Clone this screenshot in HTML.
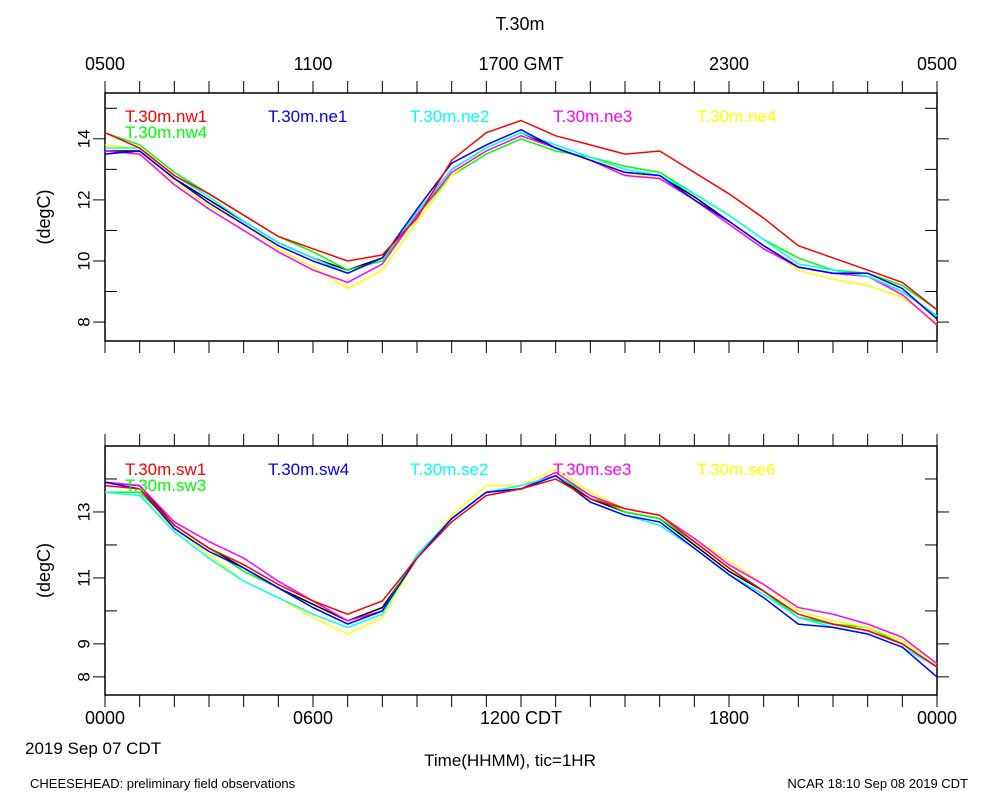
<!DOCTYPE html>
<html><head><meta charset="utf-8"><style>
body{margin:0;background:#fff;font-family:"Liberation Sans",sans-serif;}
svg text{font-family:"Liberation Sans",sans-serif;}
</style></head><body>
<svg id="chart" width="1000" height="800" viewBox="0 0 1000 800">
<text x="520" y="30" font-size="18" text-anchor="middle">T.30m</text>
<g id="top"></g>
<g id="bot"></g>
<text x="105" y="724" font-size="18" text-anchor="middle">0000</text>
<text x="313" y="724" font-size="18" text-anchor="middle">0600</text>
<text x="521" y="724" font-size="18" text-anchor="middle">1200 CDT</text>
<text x="729" y="724" font-size="18" text-anchor="middle">1800</text>
<text x="937" y="724" font-size="18" text-anchor="middle">0000</text>
<text x="105" y="70" font-size="18" text-anchor="middle">0500</text>
<text x="313" y="70" font-size="18" text-anchor="middle">1100</text>
<text x="521" y="70" font-size="18" text-anchor="middle">1700 GMT</text>
<text x="729" y="70" font-size="18" text-anchor="middle">2300</text>
<text x="937" y="70" font-size="18" text-anchor="middle">0500</text>
<text x="25" y="754" font-size="17">2019 Sep 07 CDT</text>
<text x="510" y="766" font-size="17" text-anchor="middle">Time(HHMM), tic=1HR</text>
<text x="30" y="788" font-size="13">CHEESEHEAD: preliminary field observations</text>
<text x="968" y="788" font-size="13" text-anchor="end">NCAR 18:10 Sep 08 2019 CDT</text>
</svg>
<script>
const hours = [0,1,2,3,4,5,6,7,8,9,10,11,12,13,14,15,16,17,18,19,20,21,22,23,24];
const topNames = ["T.30m.nw1","T.30m.ne1","T.30m.ne2","T.30m.ne3","T.30m.ne4","T.30m.nw4"];
const botNames = ["T.30m.sw1","T.30m.sw4","T.30m.se2","T.30m.se3","T.30m.se6","T.30m.sw3"];
const topNw1 = [14.2,13.7,12.8,12.2,11.5,10.8,10.4,10.0,10.2,11.4,13.3,14.2,14.6,14.1,13.8,13.5,13.6,12.9,12.2,11.4,10.5,10.1,9.7,9.3,8.4];
const topNe1 = [13.5,13.6,12.7,11.9,11.2,10.5,10.0,9.6,10.1,11.7,13.2,13.8,14.3,13.7,13.3,12.9,12.8,12.0,11.3,10.5,9.8,9.6,9.6,9.1,8.1];
const topNe2 = [13.7,13.7,12.8,12.1,11.3,10.6,10.1,9.6,10.1,11.6,13.0,13.7,14.2,13.8,13.4,13.0,12.8,12.2,11.5,10.7,9.9,9.7,9.5,9.0,8.2];
const topNe3 = [13.6,13.5,12.5,11.7,11.0,10.3,9.7,9.3,9.9,11.5,12.9,13.6,14.1,13.7,13.3,12.8,12.7,12.0,11.2,10.4,9.8,9.6,9.5,8.9,7.9];
const topNe4 = [13.8,13.7,12.6,11.8,11.2,10.4,9.8,9.1,9.7,11.3,12.8,13.7,14.2,13.8,13.4,12.9,12.7,12.0,11.3,10.5,9.7,9.4,9.2,8.8,8.0];
const topNw4 = [14.2,13.8,12.9,12.2,11.5,10.8,10.3,9.7,10.0,11.5,12.8,13.5,14.0,13.6,13.4,13.1,12.9,12.2,11.5,10.7,10.1,9.7,9.6,9.2,8.4];
const topBlack = [13.6,13.6,12.7,12.0,11.3,10.6,10.1,9.7,10.1,11.6,13.0,13.7,14.2,13.7,13.3,12.9,12.8,12.1,11.3,10.5,9.8,9.6,9.5,9.0,8.2];
const botSw1 = [13.8,13.7,12.6,11.9,11.4,10.8,10.3,9.9,10.3,11.6,12.7,13.5,13.7,14.0,13.4,13.1,12.9,12.1,11.3,10.6,9.9,9.6,9.4,9.0,8.3];
const botSw4 = [13.9,13.7,12.5,11.8,11.3,10.7,10.1,9.6,10.0,11.6,12.8,13.6,13.7,14.1,13.3,12.9,12.7,11.9,11.1,10.4,9.6,9.5,9.3,8.9,8.0];
const botSe2 = [13.6,13.5,12.4,11.6,10.9,10.4,9.9,9.5,9.9,11.7,12.8,13.6,13.8,14.1,13.3,12.9,12.6,11.9,11.1,10.5,9.8,9.5,9.3,8.9,8.3];
const botSe3 = [13.9,13.8,12.7,12.1,11.6,10.9,10.3,9.7,10.0,11.6,12.8,13.6,13.7,14.2,13.5,13.1,12.9,12.2,11.4,10.8,10.1,9.9,9.6,9.2,8.4];
const botSe6 = [13.6,13.5,12.5,11.7,10.9,10.4,9.8,9.3,9.8,11.6,12.9,13.8,13.8,14.3,13.6,13.1,12.9,12.2,11.5,10.8,10.0,9.7,9.5,9.1,8.4];
const botSw3 = [13.6,13.6,12.6,11.9,11.2,10.7,10.1,9.6,10.0,11.7,12.8,13.6,13.7,14.1,13.5,13.0,12.8,12.1,11.3,10.6,9.8,9.6,9.5,9.0,8.3];
const botBlack = [13.9,13.8,12.6,11.9,11.3,10.7,10.2,9.7,10.1,11.6,12.8,13.6,13.7,14.1,13.4,13.0,12.8,12.0,11.2,10.6,9.8,9.6,9.4,9.0,8.3];
const topTicks = [8,10,12,14];
const botTicks = [8,9,11,13];

const NS="http://www.w3.org/2000/svg";
const X0=105,X1=937;
function xs(h){return X0+(h/24)*(X1-X0);}
function mk(tag,attrs,parent){const e=document.createElementNS(NS,tag);for(const k in attrs)e.setAttribute(k,attrs[k]);parent.appendChild(e);return e;}

function panel(g,y0,y1,vmin,vmax,ticks,minor,series,colors){
  const ys=v=>y1-(v-vmin)/(vmax-vmin)*(y1-y0);
  const fr=mk('rect',{x:X0,y:y0,width:X1-X0,height:y1-y0,fill:'none',stroke:'#000','stroke-width':1.5},g);
  
  
  for(let h=0;h<=24;h++){
    const x=xs(h);
    const t1=mk('line',{x1:x,y1:y0-12,x2:x,y2:y0,stroke:'#000'},g);
    
    
    const t2=mk('line',{x1:x,y1:y1,x2:x,y2:y1+12,stroke:'#000'},g);
    
    
  }
  minor.forEach(v=>{
    const y=ys(v);
    const a=mk('line',{x1:X0,y1:y,x2:X0+12,y2:y,stroke:'#000'},g);
    
    
    const b=mk('line',{x1:X1-12,y1:y,x2:X1,y2:y,stroke:'#000'},g);
    
    
  });
  ticks.forEach(v=>{
    const y=ys(v);
    const a=mk('line',{x1:X0-12,y1:y,x2:X0,y2:y,stroke:'#000'},g);
    
    
    const b=mk('line',{x1:X1,y1:y,x2:X1+12,y2:y,stroke:'#000'},g);
    
    
    const t=mk('text',{x:X0-20,y:y,'font-size':17,'text-anchor':'middle',transform:`rotate(-90 ${X0-20} ${y})`,'dominant-baseline':'middle'},g);
    t.textContent=v;
    
    
  });
  const yt=mk('text',{x:50,y:(y0+y1)/2,'font-size':18,'text-anchor':'middle',transform:`rotate(-90 50 ${(y0+y1)/2})`},g);
  yt.textContent='(degC)';
  
  
  series.forEach((s,i)=>{
    const d=s.map((v,j)=>(j?'L':'M')+xs(hours[j]).toFixed(1)+' '+ys(v).toFixed(1)).join(' ');
    const p=mk('path',{d:d,fill:'none',stroke:colors[i],'stroke-width':1.5},g);
    
    
  });
}
const cols=['#ff0000','#0000ff','#00ffff','#ff00ff','#ffff00','#00ff00','#000000'];
panel(document.getElementById('top'),93,341,7.38,15.5,topTicks,[9,11,13,15],
  [topBlack,topNw4,topNe4,topNe3,topNe2,topNe1,topNw1],
  ['#000','#00ff00','#ffff00','#ff00ff','#00ffff','#0000ff','#ff0000']);
panel(document.getElementById('bot'),446,695,7.45,15,botTicks,[10,12,14],
  [botBlack,botSw3,botSe6,botSe3,botSe2,botSw4,botSw1],
  ['#000','#00ff00','#ffff00','#ff00ff','#00ffff','#0000ff','#ff0000']);
function legend(g,y0,names){
  const lx=[125,268,410,553,697,125];
  names.forEach((n,i)=>{
    const t=mk('text',{x:lx[i],y:y0+29+(i==5?16:0),'font-size':17,fill:cols[i]},g);
    t.textContent=n;
    
    
  });
}
legend(document.getElementById('top'),93,topNames);
legend(document.getElementById('bot'),446,botNames);
</script>
</body></html>
